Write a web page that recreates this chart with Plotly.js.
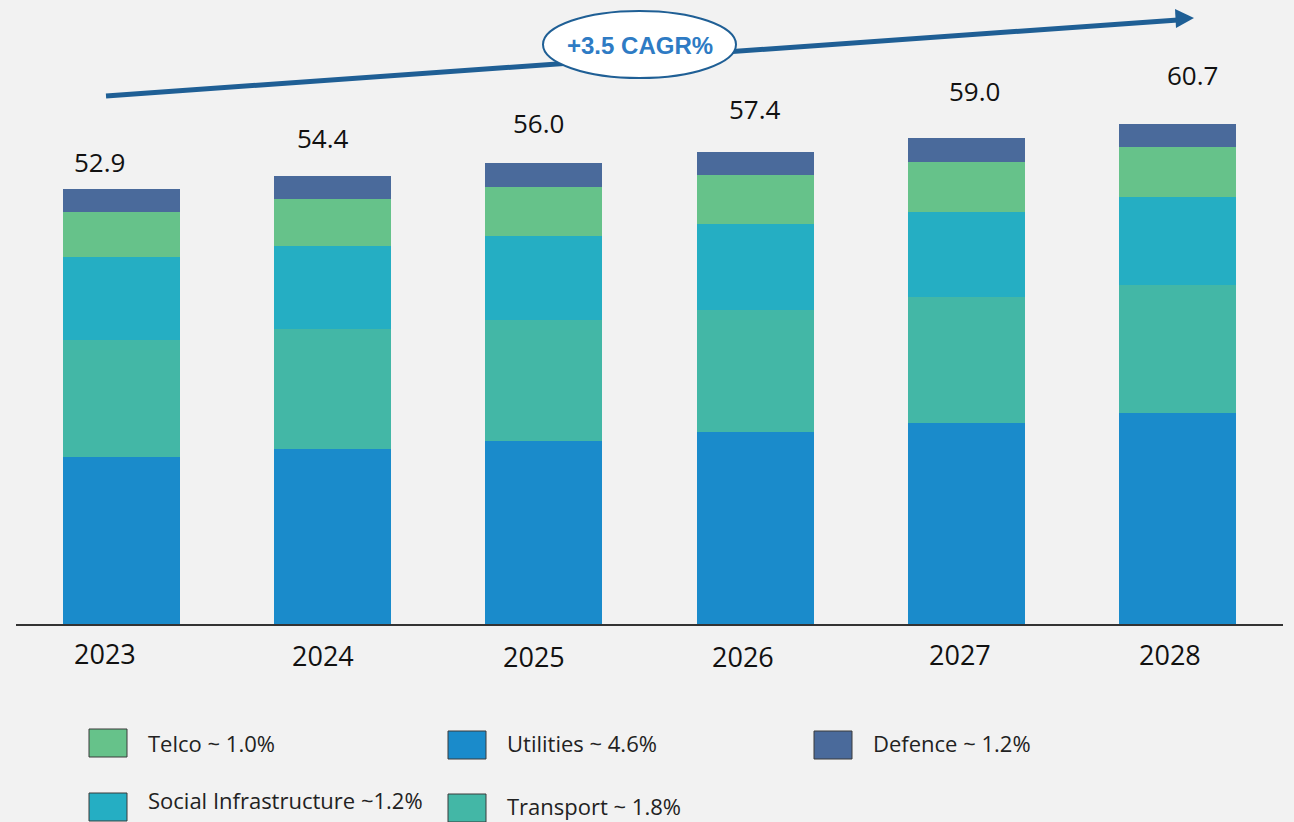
<!DOCTYPE html>
<html>
<head>
<meta charset="utf-8">
<script src="https://cdn.plot.ly/plotly-3.0.1.min.js"></script>
<style>
  html, body { margin: 0; padding: 0; background: #f2f2f2; }
  #chart { width: 1294px; height: 822px; }
</style>
</head>
<body>
<div id="chart"></div>
<script>
// data
const years = ["2023", "2024", "2025", "2026", "2027", "2028"];
const totals = [52.9, 54.4, 56.0, 57.4, 59.0, 60.7];
const utilities = [20.3, 21.3, 22.2, 23.3, 24.4, 25.6];
const transport = [14.2, 14.5, 14.7, 14.9, 15.3, 15.6];
const socialInfra = [10.1, 10.1, 10.3, 10.4, 10.4, 10.7];
const telco = [5.5, 5.7, 5.9, 5.9, 6.0, 6.0];
const defence = [2.8, 2.8, 2.9, 2.9, 2.9, 2.8];
const cagrLabel = "+3.5 CAGR%";

const series = [
  { name: "Utilities", y: utilities, color: "#1a8bcb", legend: "Utilities ~ 4.6%" },
  { name: "Transport", y: transport, color: "#43b7a6", legend: "Transport ~ 1.8%" },
  { name: "Social Infrastructure", y: socialInfra, color: "#25aec3", legend: "Social Infrastructure ~1.2%" },
  { name: "Telco", y: telco, color: "#66c28a", legend: "Telco ~ 1.0%" },
  { name: "Defence", y: defence, color: "#4a6a9b", legend: "Defence ~ 1.2%" }
];

// layout helpers (pixel -> paper)
const W = 1294, H = 822;
const M = { l: 16, r: 11, t: 10, b: 198 };
const pw = W - M.l - M.r, ph = H - M.t - M.b;
const px = (x) => (x - M.l) / pw;
const py = (y) => (H - M.b - y) / ph;
const yMax = ph / 8.23;

const traces = series.map((s) => ({
  type: "bar", x: years, y: s.y, name: s.name,
  marker: { color: s.color, line: { width: 0 } },
  width: 0.554, hoverinfo: "skip", showlegend: false
}));

// total labels, nudged like the original
const nudgeX = [-22, -10, -5, 0, 8, 15];
const nudgeY = [27, 38, 40, 43, 47, 49];
const annotations = totals.map((t, i) => ({
  xref: "x", yref: "y", x: i, y: t, text: t.toFixed(1), showarrow: false,
  xanchor: "center", yanchor: "middle", xshift: nudgeX[i], yshift: nudgeY[i],
  font: { size: 26, color: "#111" }
}));

// year labels under the axis (slightly off-centre in the original)
const tickNudgeX = [-17, -10, -10, -12, -6, -7];
const tickY = [653, 655, 656, 656, 654, 654];
years.forEach((yr, i) => {
  annotations.push({
    xref: "x", yref: "paper", x: i, y: py(tickY[i]), text: yr, showarrow: false,
    xanchor: "center", yanchor: "middle", xshift: tickNudgeX[i],
    font: { size: 27, color: "#111" }
  });
});

annotations.push({
  xref: "paper", yref: "paper", x: px(640), y: py(45), text: "<b>" + cagrLabel + "</b>",
  showarrow: false, xanchor: "center", yanchor: "middle",
  font: { family: "Liberation Sans, Arial, sans-serif", size: 24, color: "#2e7bc4" }
});

const shapes = [
  { type: "line", xref: "paper", yref: "paper", x0: px(106), y0: py(96), x1: px(1178), y1: py(20),
    line: { color: "#1f5f95", width: 5 } },
  { type: "path", xref: "paper", yref: "paper",
    path: `M ${px(1175)} ${py(9)} L ${px(1194)} ${py(18)} L ${px(1176)} ${py(28)} Z`,
    fillcolor: "#1f5f95", line: { width: 0 } },
  { type: "circle", xref: "paper", yref: "paper", x0: px(543), x1: px(736), y0: py(78), y1: py(11),
    fillcolor: "#ffffff", line: { color: "#1f5f95", width: 2 } }
];

// custom legend: Telco, Utilities, Defence / Social Infrastructure, Transport
const legendOrder = ["Telco", "Utilities", "Defence", "Social Infrastructure", "Transport"];
const slots = [
  { x: 89, y: 729, ty: 743 }, { x: 448, y: 731, ty: 743 }, { x: 814, y: 731, ty: 743 },
  { x: 89, y: 793, ty: 800 }, { x: 448, y: 794, ty: 806 }
];
legendOrder.forEach((n, i) => {
  const s = series.find((d) => d.name === n);
  const p = slots[i];
  shapes.push({ type: "rect", xref: "paper", yref: "paper",
    x0: px(p.x), x1: px(p.x + 38), y0: py(p.y + 28), y1: py(p.y),
    fillcolor: s.color, line: { color: "#3a3a3a", width: 1 } });
  annotations.push({ xref: "paper", yref: "paper", x: px(p.x + 57), y: py(p.ty),
    text: s.legend, showarrow: false, xanchor: "left", yanchor: "middle",
    font: { size: 22, color: "#222" } });
});

const layout = {
  width: W, height: H,
  paper_bgcolor: "#f2f2f2", plot_bgcolor: "#f2f2f2",
  font: { family: "Open Sans, sans-serif", color: "#111" },
  margin: M,
  barmode: "stack",
  showlegend: false,
  xaxis: { type: "category", range: [-0.5, 5.5], showline: true, linecolor: "#333", linewidth: 2,
    ticks: "", showticklabels: false, showgrid: false, fixedrange: true },
  yaxis: { range: [0, yMax], visible: false, showgrid: false, zeroline: false, fixedrange: true },
  shapes: shapes,
  annotations: annotations
};

Plotly.newPlot("chart", traces, layout, { displayModeBar: false, staticPlot: true });
</script>
</body>
</html>
